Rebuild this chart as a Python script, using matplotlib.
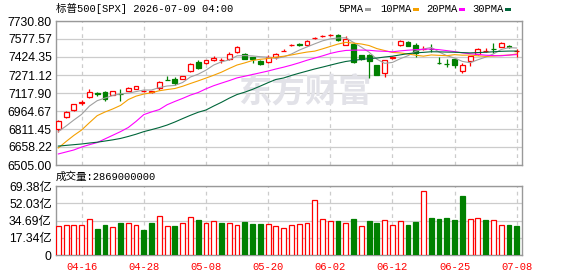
import numpy as np
import matplotlib
matplotlib.use("Agg")
import matplotlib.pyplot as plt
from matplotlib.patches import Rectangle

# ---------------- data ----------------
dates = ["04-13", "04-14", "04-15", "04-16", "04-17", "04-20", "04-21", "04-22", "04-23", "04-24",
         "04-27", "04-28", "04-29", "04-30", "05-01", "05-04", "05-05", "05-06", "05-07", "05-08",
         "05-11", "05-12", "05-13", "05-14", "05-15", "05-18", "05-19", "05-20", "05-21", "05-22",
         "05-26", "05-27", "05-28", "05-29", "06-01", "06-02", "06-03", "06-04", "06-05", "06-08",
         "06-09", "06-10", "06-11", "06-12", "06-15", "06-16", "06-17", "06-18", "06-22", "06-23",
         "06-24", "06-25", "06-26", "06-29", "06-30", "07-01", "07-02", "07-06", "07-07", "07-08"]

opens = [6809, 6911, 6973, 7030, 7081, 7114, 7126, 7104, 7111, 7138,
         7152, 7136, 7130, 7163, 7230, 7234, 7240, 7302, 7385, 7370,
         7396, 7398, 7407, 7464, 7450, 7424, 7390, 7379, 7422, 7474,
         7524, 7532, 7526, 7584, 7601, 7609, 7614, 7529, 7535, 7438,
         7441, 7353, 7291, 7418, 7524, 7555, 7526, 7492, 7491, 7372,
         7366, 7407, 7308, 7393, 7447, 7476, 7494, 7512, 7514, 7476]
highs = [6890, 6965, 7027, 7058, 7155, 7129, 7138, 7136, 7149, 7167,
         7178, 7145, 7137, 7222, 7263, 7251, 7266, 7370, 7399, 7402,
         7430, 7413, 7470, 7518, 7456, 7428, 7395, 7440, 7460, 7495,
         7536, 7540, 7568, 7595, 7615, 7620, 7618, 7600, 7540, 7442,
         7450, 7356, 7402, 7430, 7568, 7560, 7546, 7520, 7535, 7422,
         7405, 7412, 7370, 7436, 7500, 7505, 7546, 7548, 7525, 7495]
lows = [6789, 6905, 6966, 7016, 7078, 7092, 7053, 7100, 7053, 7134,
        7149, 7128, 7122, 7143, 7227, 7183, 7236, 7298, 7325, 7366,
        7392, 7370, 7400, 7460, 7405, 7370, 7358, 7370, 7410, 7473,
        7515, 7520, 7522, 7578, 7592, 7600, 7560, 7525, 7376, 7400,
        7243, 7268, 7257, 7410, 7520, 7516, 7422, 7485, 7469, 7365,
        7342, 7328, 7291, 7348, 7442, 7465, 7456, 7508, 7500, 7422]
closes = [6882, 6959, 7021, 7044, 7126, 7112, 7070, 7132, 7109, 7163,
          7175, 7138, 7132, 7214, 7228, 7200, 7263, 7365, 7334, 7399,
          7419, 7399, 7447, 7507, 7410, 7405, 7365, 7427, 7453, 7476,
          7527, 7530, 7563, 7586, 7603, 7612, 7566, 7575, 7385, 7405,
          7393, 7271, 7399, 7422, 7563, 7521, 7461, 7495, 7489, 7370,
          7364, 7359, 7353, 7433, 7495, 7478, 7492, 7544, 7512, 7478]

# volume in 亿 (1e8)
volumes = [28.8, 29.8, 29.8, 29.8, 35.9, 26.1, 30.2, 27.8, 32.2, 31.8,
           29.8, 25.1, 32.2, 38.9, 28.8, 28.8, 31.8, 37.9, 35.2, 32.2,
           34.2, 32.2, 32.2, 29.8, 33.2, 31.2, 31.2, 31.2, 28.8, 26.8,
           29.8, 30.8, 31.8, 55.0, 35.9, 33.9, 34.2, 31.8, 35.9, 28.8,
           34.2, 32.2, 34.9, 29.8, 33.9, 29.8, 33.2, 64.0, 37.2, 35.9,
           37.2, 35.2, 59.3, 35.9, 36.9, 35.2, 34.9, 29.8, 30.2, 28.69]

# moving-average values before enough in-window closes exist
ma5_head = [6789, 6837, 6888, 6936]
ma10_head = [6650, 6705, 6757, 6803, 6865, 6925, 6956, 6982, 7012]
ma20_head = [6599, 6616, 6633, 6658, 6678, 6696, 6727, 6758, 6789, 6824,
             6876, 6934, 6957, 6977, 7018, 7046, 7072, 7100, 7122]
ma30_head = [6666, 6672, 6678, 6684, 6692, 6699, 6709, 6719, 6731, 6748,
             6767, 6789, 6806, 6824, 6845, 6871, 6900, 6928, 6954, 6973,
             7007, 7039, 7074, 7105, 7125, 7149, 7177, 7206, 7233]

tick_labels = ["04-16", "04-28", "05-08", "05-20", "06-02", "06-12", "06-25", "07-08"]
price_min, price_max = 6505.00, 7730.80
price_tick_labels = ["6505.00", "6658.22", "6811.45", "6964.67", "7117.90",
                     "7271.12", "7424.35", "7577.57", "7730.80"]
vol_max = 69.38
vol_tick_labels = ["0", "17.34亿", "34.69亿", "52.03亿", "69.38亿"]
title = "标普500[SPX] 2026-07-09 04:00"
vol_title = "成交量:2869000000"
legend_names = ["5PMA", "10PMA", "20PMA", "30PMA"]

# ---------------- styles ----------------
RED = "#ff0000"
GREEN = "#008000"
GRID = "#cccccc"
SPINE = "#999999"
ma_colors = ["#a0a0a0", "#f5a000", "#ff00ff", "#00663a"]
mono = ["Liberation Mono", "Noto Sans CJK SC"]
sans = ["Liberation Sans", "Noto Sans CJK SC"]

W, H = 578, 276
fig = plt.figure(figsize=(W / 100, H / 100), dpi=100)
fig.patch.set_facecolor("white")
L, R = 56, 522
ax = fig.add_axes([L / W, 1 - 165 / H, (R - L) / W, 144 / H])
axv = fig.add_axes([L / W, 1 - 255 / H, (R - L) / W, 69 / H])

n = len(closes)
x = np.arange(n)
c_arr = np.array(closes, float)

def moving(nwin, head):
    out = np.empty(n)
    out[: nwin - 1] = head
    for i in range(nwin - 1, n):
        out[i] = c_arr[i - nwin + 1: i + 1].mean()
    return out

mas = [moving(5, ma5_head), moving(10, ma10_head), moving(20, ma20_head), moving(30, ma30_head)]

tick_idx = [dates.index(t) for t in tick_labels]

for a in (ax, axv):
    a.set_xlim(-0.3, 59.68)
    a.set_xticks(tick_idx)
    a.tick_params(axis="both", length=0)
    a.set_axisbelow(True)
    a.grid(axis="x", color=GRID, lw=0.9, linestyle=(0, (3, 3)))
    a.grid(axis="y", color=GRID, lw=0.9, linestyle="-")
    for s in a.spines.values():
        s.set_color(SPINE)
        s.set_linewidth(1.0)

# ---- price panel ----
ax.set_ylim(price_min, price_max)
yt = np.linspace(price_min, price_max, len(price_tick_labels))
ax.set_yticks(yt)
ax.set_yticklabels(price_tick_labels, fontsize=8.8, family=sans)
ax.tick_params(axis="y", pad=3)
ax.set_xticklabels([])

ax.text(0.39, 0.5, "东方财富", transform=ax.transAxes, fontsize=24, color="#e2e2e8",
        family=["Noto Sans CJK SC"], weight="bold", ha="left", va="center", zorder=0.6)

bw = 0.62
for i in range(n):
    o, h, l, c = opens[i], highs[i], lows[i], closes[i]
    up = c >= o
    col = RED if up else GREEN
    ax.vlines(i, l, h, color=col, lw=0.9, zorder=2)
    bottom = min(o, c)
    height = max(abs(c - o), 0.5)
    ax.add_patch(Rectangle((i - bw / 2, bottom), bw, height,
                           facecolor="white" if up else GREEN, edgecolor=col,
                           lw=0.9, zorder=3))

for m, col in zip(mas, ma_colors):
    ax.plot(x, m, color=col, lw=0.8, zorder=4)

# ---- volume panel ----
axv.set_ylim(0, vol_max)
vt = np.linspace(0, vol_max, len(vol_tick_labels))
axv.set_yticks(vt)
axv.set_yticklabels(vol_tick_labels, fontsize=8.8, family=sans)
axv.tick_params(axis="y", pad=3)
axv.set_xticklabels(tick_labels, fontsize=7.6, family=mono, color=RED)
axv.tick_params(axis="x", pad=5)
for i in range(n):
    up = True if i == 0 else closes[i] >= closes[i - 1]
    col = RED if up else GREEN
    axv.bar(i, volumes[i], width=bw, bottom=0,
            facecolor="white" if up else GREEN, edgecolor=col, lw=0.9, zorder=3)

# ---- texts ----
fig.text(L / W, 1 - 8.5 / H, title, fontsize=7.6, family=mono, ha="left", va="center")
fig.text(L / W, 1 - 177 / H, vol_title, fontsize=7.6, family=mono, ha="left", va="center")

leg_x = [338, 380, 426, 472]
dash_x = [365, 413, 459, 505]
for name, lx, dx, col in zip(legend_names, leg_x, dash_x, ma_colors):
    fig.text(lx / W, 1 - 9 / H, name, fontsize=7.6, family=mono, ha="left", va="center")
    fig.add_artist(Rectangle((dx / W, 1 - 11 / H), 6 / W, 2.5 / H,
                             transform=fig.transFigure, facecolor=col, edgecolor="none"))

fig.savefig("out.png", dpi=100)
